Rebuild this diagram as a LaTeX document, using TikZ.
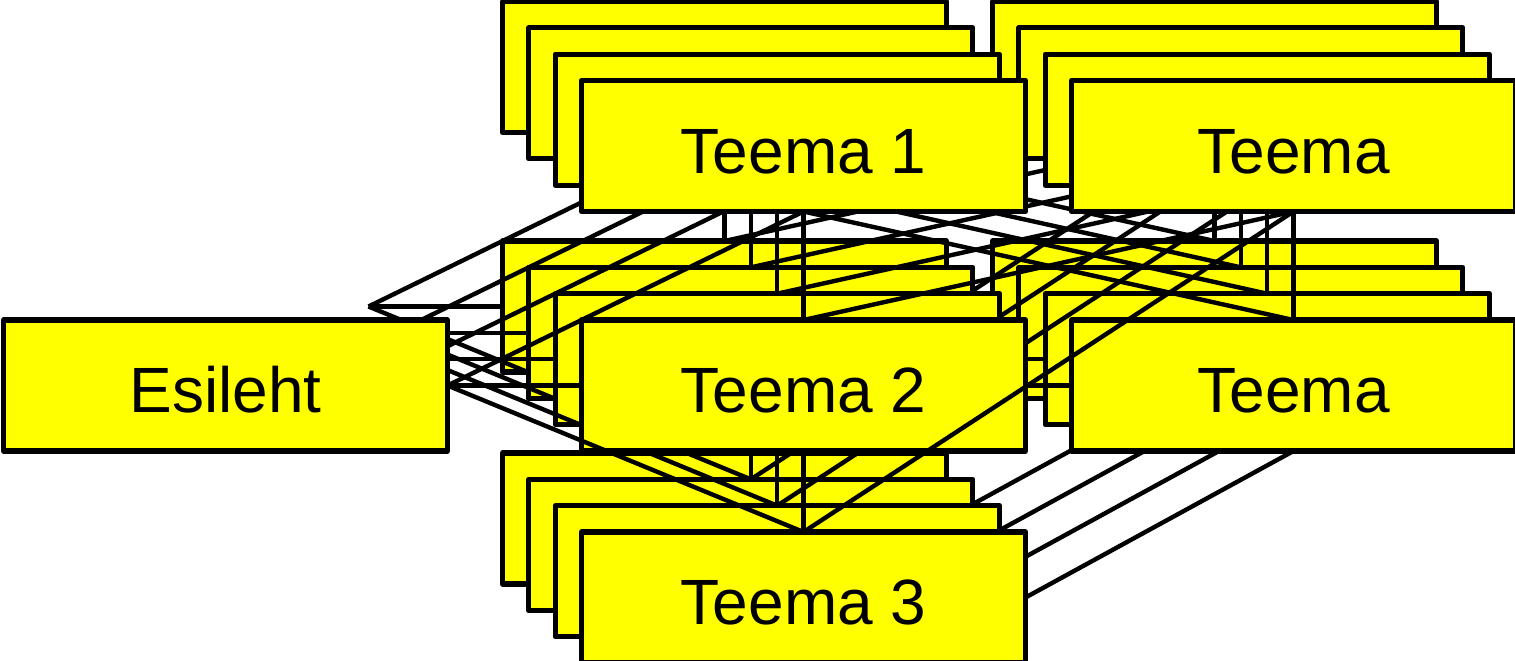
\documentclass[tikz,border=0pt]{standalone}
\usepackage{fontspec}
\setmainfont{Liberation Sans}
\definecolor{cardyellow}{RGB}{255,255,0}
\begin{document}
\begin{tikzpicture}[x=0.5pt,y=-0.5pt,
  card/.style={draw=black, fill=cardyellow, line width=2.6pt, minimum width=222pt,
    minimum height=65.5pt, inner sep=0pt, outer sep=0pt, line join=round,
    text height=27pt, text depth=0pt,
    font=\fontsize{32}{38}\selectfont},
  link/.style={draw=black, line width=2.2pt}]
\useasboundingbox (0,0) rectangle (1515,660);
\fill[white] (0,0) rectangle (1515,660);
\foreach \k in {0,1,2,3} {
  \pgfmathsetmacro{\dd}{(3-\k)*26.33}
  \ifnum\k=3
    \node[card] (E\k) at (225.5-\dd, 385.5-\dd) {Esileht};
    \node[card] (A\k) at (803.5-\dd, 146-\dd) {Teema 1};
    \node[card] (R\k) at (1293.5-\dd, 146-\dd) {Teema};
    \node[card] (B\k) at (803.5-\dd, 385.5-\dd) {Teema 2};
    \node[card] (S\k) at (1293.5-\dd, 385.5-\dd) {Teema};
    \node[card] (C\k) at (803.5-\dd, 597.5-\dd) {Teema 3};
  \else
    \node[card, draw=none, fill=none] (E\k) at (225.5-\dd, 385.5-\dd) {};
    \node[card] (A\k) at (803.5-\dd, 146-\dd) {};
    \node[card] (R\k) at (1293.5-\dd, 146-\dd) {};
    \node[card] (B\k) at (803.5-\dd, 385.5-\dd) {};
    \node[card] (S\k) at (1293.5-\dd, 385.5-\dd) {};
    \node[card] (C\k) at (803.5-\dd, 597.5-\dd) {};
  \fi
  \draw[link] (E\k.east) -- (A\k.south);
  \draw[link] (E\k.east) -- (B\k.west);
  \draw[link] (E\k.east) -- (C\k.north);
  \draw[link] (A\k.south) -- (B\k.north);
  \draw[link] (B\k.south) -- (C\k.north);
  \draw[link] (R\k.south) -- (S\k.north);
  \draw[link] (B\k.east) -- (S\k.west);
  \draw[link] (R\k.south) -- (C\k.north);
  \draw[link] (S\k.south) -- (C\k.east);
  \draw[link] (A\k.south) -- (S\k.north);
  \draw[link] (R\k.south) -- (B\k.north);
}
\end{tikzpicture}
\end{document}
